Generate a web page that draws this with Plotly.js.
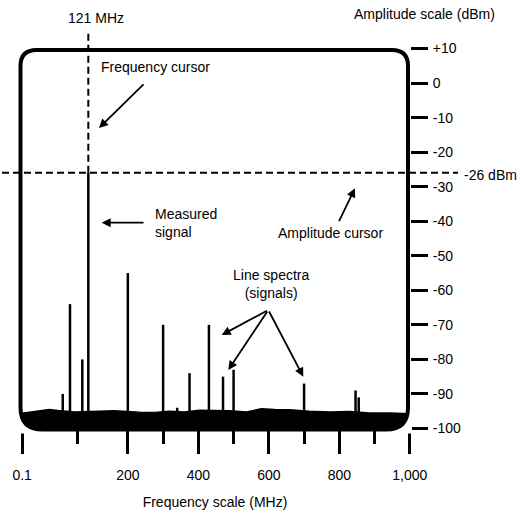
<!DOCTYPE html>
<html><head><meta charset="utf-8">
<script src="https://cdn.plot.ly/plotly-3.0.1.min.js"></script>
<style>html,body{margin:0;padding:0;background:#fff}#chart{width:522px;height:510px}</style>
</head><body><div id="chart"></div>
<script>
// ---- Data ----
const signalFreqMHz  = [73, 86, 109, 121, 200, 300, 340, 375, 430, 470, 500, 700, 846, 855];
const signalLevelDbm = [-90, -64, -80, -26, -55, -70, -94, -84, -70, -85, -83, -87, -89, -91];

const noiseFreqMHz  = [0.1, 13, 31, 49, 64, 94, 143, 173, 233, 276, 318, 361, 403, 446, 489, 537, 579, 616, 659, 715, 772, 829, 886, 942, 1000];
const noiseLevelDbm = [-95.6, -95.3, -95.0, -94.5, -94.8, -95.2, -95.0, -94.9, -95.3, -95.4, -95.0, -95.2, -94.7, -94.7, -94.9, -95.2, -94.3, -94.5, -94.6, -95.0, -95.2, -95.1, -95.5, -95.5, -95.7];

const freqMajorTicks  = [0.1, 200, 400, 600, 800, 1000];
const freqMajorLabels = ['0.1', '200', '400', '600', '800', '1,000'];
const freqMinorTicks  = [100, 300, 500, 700, 900];

const ampTicks  = [10, 0, -10, -20, -30, -40, -50, -60, -70, -80, -90, -100];
const ampLabels = ['+10', '0', '-10', '-20', '-30', '-40', '-50', '-60', '-70', '-80', '-90', '-100'];

const cursorFreqMHz = 121;
const cursorLevelDbm = -26;
const floorDbm = -100;

// ---- Broken frequency scale of the drawing (low band is stretched) ----
const SCALE_MHZ = [0.1, 100, 200, 1000];
const SCALE_POS = [-100, 58, 200, 1000];
function fpos(f) {
  for (let i = 0; i < SCALE_MHZ.length - 1; i++) {
    if (f <= SCALE_MHZ[i + 1] || i === SCALE_MHZ.length - 2) {
      const t = (f - SCALE_MHZ[i]) / (SCALE_MHZ[i + 1] - SCALE_MHZ[i]);
      return SCALE_POS[i] + t * (SCALE_POS[i + 1] - SCALE_POS[i]);
    }
  }
}

// ---- Geometry ----
const W = 522, H = 510;
const M = {l: 20, r: 112, t: 48, b: 81};
const PW = W - M.l - M.r, PH = H - M.t - M.b;
const X = px => (px - M.l) / PW;          // pixel -> paper
const Y = py => (M.t + PH - py) / PH;
const YR = [-100, 10];
const yPaper = v => (v - YR[0]) / (YR[1] - YR[0]);

const FONT = 'Liberation Sans, Arial, Helvetica, sans-serif';
const BLACK = '#000';

// ---- Traces ----
const xs = [], ys = [];
signalFreqMHz.forEach((f, i) => {
  xs.push(fpos(f), fpos(f), null);
  ys.push(floorDbm, signalLevelDbm[i], null);
});

const traces = [
  { // baseline for the noise fill
    x: [fpos(noiseFreqMHz[0]), fpos(noiseFreqMHz[noiseFreqMHz.length - 1])],
    y: [floorDbm, floorDbm],
    mode: 'lines', line: {width: 0, color: BLACK}, hoverinfo: 'skip'
  },
  { // noise floor
    x: noiseFreqMHz.map(fpos), y: noiseLevelDbm,
    mode: 'lines', line: {width: 1.5, color: BLACK},
    fill: 'tonexty', fillcolor: BLACK, name: 'Noise floor'
  },
  { // line spectra
    x: xs, y: ys, mode: 'lines', line: {width: 2.5, color: BLACK}, name: 'Signals'
  }
];

// ---- Frame (rounded display border) ----
const fl = 20.5, fr = 408, ft = 50, fb = 429.5, rt = 16, rb = 22;
const framePath =
  `M ${X(fl + rt)},${Y(ft)} L ${X(fr - rt)},${Y(ft)} Q ${X(fr)},${Y(ft)} ${X(fr)},${Y(ft + rt)} ` +
  `L ${X(fr)},${Y(fb - rb)} Q ${X(fr)},${Y(fb)} ${X(fr - rb)},${Y(fb)} ` +
  `L ${X(fl + rb)},${Y(fb)} Q ${X(fl)},${Y(fb)} ${X(fl)},${Y(fb - rb)} ` +
  `L ${X(fl)},${Y(ft + rt)} Q ${X(fl)},${Y(ft)} ${X(fl + rt)},${Y(ft)} Z`;
const maskL =
  `M ${X(fl - 4)},${Y(fb - rb)} L ${X(fl)},${Y(fb - rb)} Q ${X(fl)},${Y(fb)} ${X(fl + rb)},${Y(fb)} ` +
  `L ${X(fl + rb)},${Y(fb + 4)} L ${X(fl - 4)},${Y(fb + 4)} Z`;
const maskR =
  `M ${X(fr + 4)},${Y(fb - rb)} L ${X(fr)},${Y(fb - rb)} Q ${X(fr)},${Y(fb)} ${X(fr - rb)},${Y(fb)} ` +
  `L ${X(fr - rb)},${Y(fb + 4)} L ${X(fr + 4)},${Y(fb + 4)} Z`;

const shapes = [
  {type: 'path', xref: 'paper', yref: 'paper', path: maskL, fillcolor: '#fff', line: {width: 0}, layer: 'above'},
  {type: 'path', xref: 'paper', yref: 'paper', path: maskR, fillcolor: '#fff', line: {width: 0}, layer: 'above'},
  {type: 'path', xref: 'paper', yref: 'paper', path: framePath, line: {width: 4, color: BLACK}, layer: 'above'},
  // frequency cursor
  {type: 'line', xref: 'x', yref: 'paper', x0: fpos(cursorFreqMHz), x1: fpos(cursorFreqMHz),
   y0: yPaper(cursorLevelDbm), y1: Y(32), line: {width: 2, color: BLACK, dash: '7px,4px'}, layer: 'above'},
  // amplitude cursor
  {type: 'line', xref: 'paper', yref: 'y', x0: X(2), x1: X(458), y0: cursorLevelDbm, y1: cursorLevelDbm,
   line: {width: 2, color: BLACK, dash: '7px,4px'}, layer: 'above'}
];

// ---- Annotations ----
function label(text, px, py, xanchor) {
  return {xref: 'paper', yref: 'paper', x: X(px), y: Y(py), text: text, showarrow: false,
          xanchor: xanchor, yanchor: 'middle', align: xanchor === 'center' ? 'center' : 'left',
          font: {family: FONT, size: 14, color: BLACK}};
}
function arrow(tx, ty, hx, hy) {
  return {xref: 'paper', yref: 'paper', x: X(hx), y: Y(hy), axref: 'pixel', ayref: 'pixel',
          ax: tx - hx, ay: ty - hy, text: '', showarrow: true, arrowhead: 2, arrowsize: 1,
          arrowwidth: 1.8, arrowcolor: BLACK, standoff: 0, startstandoff: 0,
          font: {size: 2}};
}
const annotations = [
  label(cursorFreqMHz + ' MHz', 96, 18, 'center'),
  label('Amplitude scale (dBm)', 424.5, 14, 'center'),
  label('Frequency cursor', 99, 67, 'left'),
  label(cursorLevelDbm + ' dBm', 462, 175, 'left'),
  label('Measured<br>signal', 153, 222.5, 'left'),
  label('Amplitude cursor', 330.5, 232.7, 'center'),
  label('Line spectra<br>(signals)', 270.7, 284, 'center'),
  arrow(145, 83, 99, 128),
  arrow(145, 222.7, 101.7, 222.7),
  arrow(338.3, 222.7, 355, 188.3),
  arrow(268.3, 310, 221.7, 335),
  arrow(268.3, 310, 228.3, 370),
  arrow(268.3, 310, 303.3, 376.7)
];

const layout = {
  width: W, height: H, margin: M,
  paper_bgcolor: '#fff', plot_bgcolor: '#fff',
  showlegend: false,
  font: {family: FONT, size: 14, color: BLACK},
  xaxis: {
    range: [fpos(0.1) - 6, fpos(1000) + 0.5],
    tickmode: 'array', tickvals: freqMajorTicks.map(fpos), ticktext: freqMajorLabels,
    ticks: 'outside', ticklen: 24, tickwidth: 3, tickcolor: BLACK,
    ticklabelstandoff: 9,
    minor: {tickmode: 'array', tickvals: freqMinorTicks.map(fpos), ticks: 'outside',
            ticklen: 14, tickwidth: 3, tickcolor: BLACK, showgrid: false},
    showgrid: false, zeroline: false, showline: false,
    tickfont: {family: FONT, size: 14, color: BLACK},
    title: {text: 'Frequency scale (MHz)', standoff: 17, font: {family: FONT, size: 14, color: BLACK}}
  },
  yaxis: {
    range: [YR[0] - 0.15, YR[1] + 0.15], side: 'right',
    tickmode: 'array', tickvals: ampTicks, ticktext: ampLabels,
    ticks: 'outside', ticklen: 17, tickwidth: 3, tickcolor: BLACK,
    ticklabelstandoff: 2,
    showgrid: false, zeroline: false, showline: false,
    tickfont: {family: FONT, size: 14, color: BLACK}
  },
  shapes: shapes,
  annotations: annotations
};

Plotly.newPlot('chart', traces, layout, {displayModeBar: false, staticPlot: true});
</script>
</body></html>
